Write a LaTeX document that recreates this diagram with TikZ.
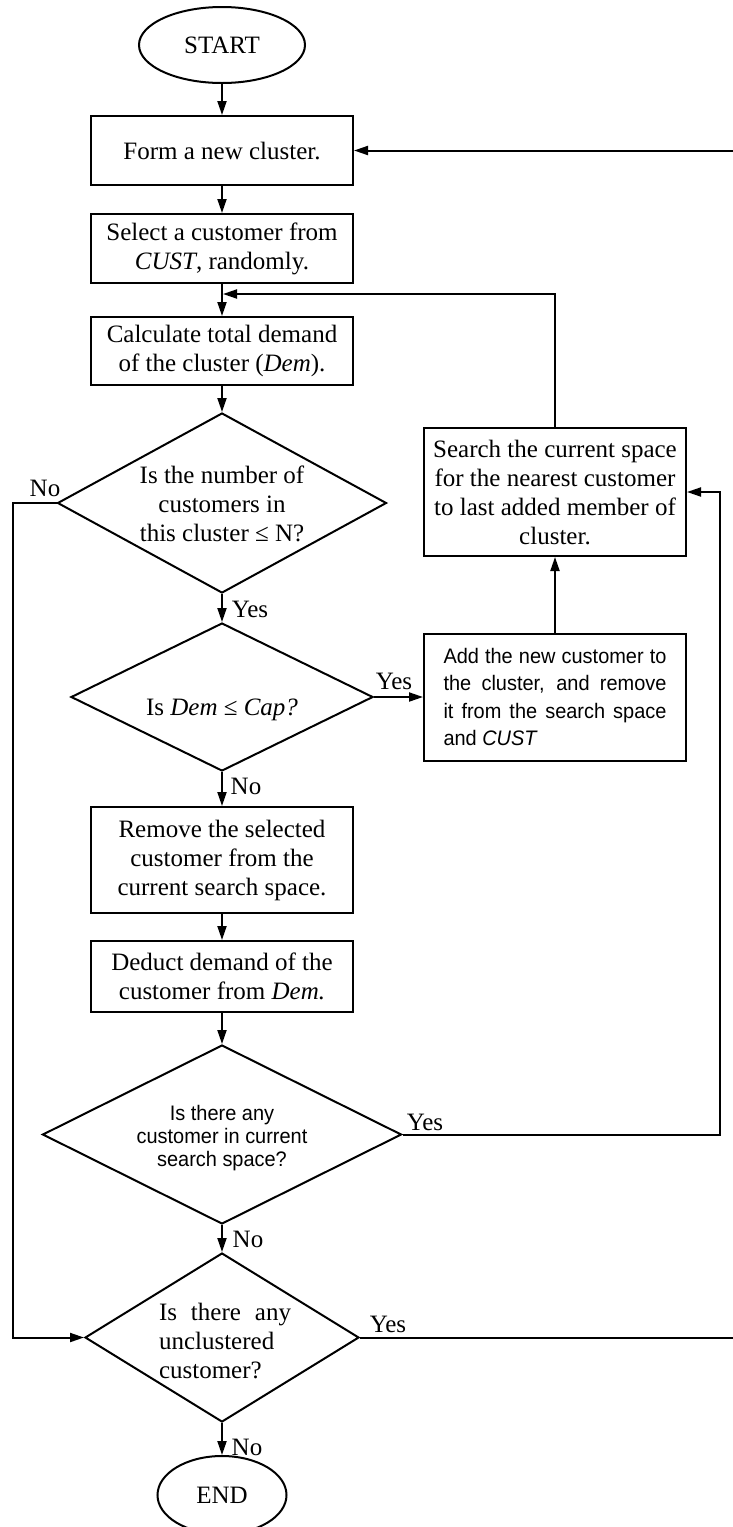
\documentclass[tikz,border=0pt]{standalone}
\usepackage{fontspec}
\setmainfont{Liberation Serif}
\newfontfamily\nsans[FakeStretch=0.95]{Liberation Sans}
\usetikzlibrary{shapes.geometric,arrows.meta}
\begin{document}
\begin{tikzpicture}[x=1pt,y=-1pt,
  every node/.style={font=\fontsize{25}{29}\selectfont},
  base/.style={draw=black,line width=2pt},
  proc/.style={base,rectangle,inner sep=0pt,align=center,minimum width=262pt},
  term/.style={base,ellipse,inner sep=0pt},
  dec/.style={base,diamond,inner sep=0pt},
  dtext/.style={inner sep=0pt,align=center},
  lbl/.style={inner sep=0pt},
  sanstext/.style={font=\nsans\fontsize{21}{23}\selectfont},
  arr/.style={line width=2pt,-{Triangle[length=14pt,width=9pt]}}]
\useasboundingbox (0,0) rectangle (733,1527);
\clip (0,0) rectangle (733,1527);

% nodes
\node[term,minimum width=166pt,minimum height=76pt] (start) at (222,45) {\raisebox{-6pt}{START}};
\node[proc,minimum height=69pt] (form) at (222,150.5) {Form a new cluster.};
\node[proc,minimum height=69pt] (select) at (222,248.5) {Select a customer from\\\textit{CUST}, randomly.};
\node[proc,minimum height=68pt] (calc) at (222,351) {Calculate total demand\\of the cluster (\textit{Dem}).};
\node[dec,minimum width=329pt,minimum height=180pt] (d1) at (222,503) {};
\node[dtext] (d1t) at (222,504) {Is the number of\\customers in\\this cluster ≤ N?};
\node[dec,minimum width=302pt,minimum height=148pt] (d2) at (222,697) {};
\node[dtext] (d2t) at (222,710) {Is \textit{Dem} ≤ \textit{Cap?}};
\node[proc,minimum height=128pt] (search) at (555,492) {Search the current space\\for the nearest customer\\to last added member of\\cluster.};
\node[proc,minimum height=127pt,text width=223pt,align=justify,
      font=\nsans\fontsize{21}{27.5}\selectfont] (add) at (555,697)
  {\hyphenpenalty=10000 Add the new customer to\linebreak the cluster, and remove\linebreak it from the search space\linebreak and \textit{CUST}};
\node[proc,minimum height=106pt] (remove) at (222,860) {Remove the selected\\customer from the\\current search space.};
\node[proc,minimum height=71pt] (deduct) at (222,976.5) {Deduct demand of the\\customer from \textit{Dem.}};
\node[dec,minimum width=359pt,minimum height=179pt] (d3) at (222,1134.5) {};
\node[dtext,sanstext] (d3t) at (222,1138) {Is there any\\customer in current\\search space?};
\node[dec,minimum width=274pt,minimum height=169pt] (d4) at (222,1337.5) {};
\node[inner sep=0pt,text width=132pt,align=justify] (d4t) at (225,1341)
  {\hyphenpenalty=10000 Is there any\linebreak unclustered\\customer?};
\node[term,minimum width=129pt,minimum height=78pt] (end) at (222,1495) {\raisebox{-6pt}{END}};

% helper coordinates
\coordinate (j1) at (223,294);
\coordinate (r1) at (720,1134.5);
\coordinate (l1) at (13,503);
\coordinate (r2) at (745,1337.5);

% connectors
\draw[arr] (start) -- (form);
\draw[arr] (form) -- (select);
\draw[arr] (select) -- (calc);
\draw[arr] (calc) -- (d1);
\draw[arr] (d1) -- (d2);
\draw[arr] (d2) -- (remove);
\draw[arr] (remove) -- (deduct);
\draw[arr] (deduct) -- (d3);
\draw[arr] (d3) -- (d4);
\draw[arr] (d4) -- (end);
\draw[arr] (d2.east) -- (add.west);
\draw[arr] (add) -- (search);
\draw[arr] (search.north) |- (j1);
\draw[arr] (d3.east) -- (r1) |- (search.east);
\draw[arr] (d1.west) -- (l1) |- (d4.west);
\draw[arr] (d4.east) -- (r2) |- (form.east);

% labels
\node[lbl] (n1) at (45,488) {No};
\node[lbl] (y1) at (250,609) {Yes};
\node[lbl] (y2) at (394,681) {Yes};
\node[lbl] (n2) at (246,786) {No};
\node[lbl] (y3) at (425,1122) {Yes};
\node[lbl] (n3) at (248,1239) {No};
\node[lbl] (y4) at (388,1324) {Yes};
\node[lbl] (n4) at (247,1447) {No};
\end{tikzpicture}
\end{document}
